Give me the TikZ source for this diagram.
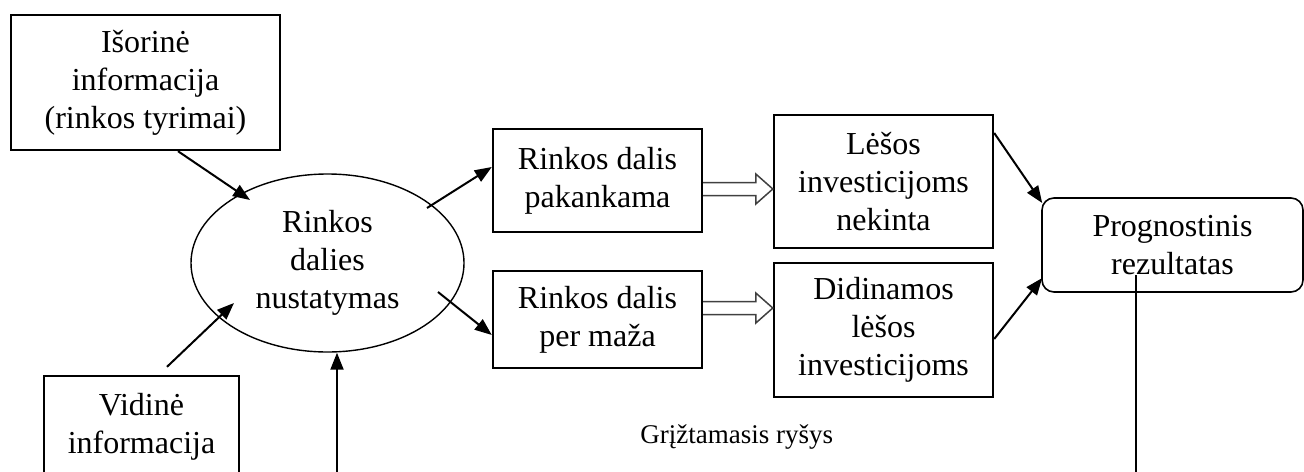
\documentclass[tikz,border=0pt]{standalone}
\usepackage{fontspec}
\setmainfont{Liberation Serif}
\usetikzlibrary{shapes.geometric,calc,arrows.meta}
\newcommand\mainfnt{\fontsize{16}{19}\selectfont}
\newcommand\smallfnt{\fontsize{13.5}{16}\selectfont}
\tikzset{
  boxnode/.style={draw, rectangle, line width=1.2pt, align=center, inner sep=0pt, font=\mainfnt},
  ellnode/.style={draw, ellipse, line width=0.7pt, align=center, inner sep=0pt, font=\mainfnt},
  roundnode/.style={draw, rectangle, rounded corners=6pt, line width=0.8pt, align=center, inner sep=0pt, font=\mainfnt},
  conn/.style={line width=1pt, -{Triangle[length=8.5pt,width=6.5pt]}},
  plainline/.style={line width=1pt},
  hollowarrow/.style={line width=0.75pt, draw=black!75, line join=miter},
}
\begin{document}
\begin{tikzpicture}[x=0.5pt,y=-0.5pt]
\useasboundingbox (0,0) rectangle (1304,471);
\clip (0,0) rectangle (1304,471);

\node[boxnode, minimum width=134.5pt, minimum height=67.5pt] (isor) at (145.5,82.5) {Išorinė\\informacija\\(rinkos tyrimai)};
\node[boxnode, minimum width=97.5pt, minimum height=50.5pt] (vid) at (141.5,426.5) {Vidinė\\informacija};
\node[ellnode, minimum width=136.5pt, minimum height=89pt] (ell) at (327.5,263) {Rinkos\\dalies\\nustatymas};
\node[boxnode, minimum width=104.5pt, minimum height=51.5pt] (pak) at (597.5,180.5) {Rinkos dalis\\pakankama};
\node[boxnode, minimum width=104.5pt, minimum height=48.5pt] (per) at (597.5,319.5) {Rinkos dalis\\per maža};
\node[boxnode, minimum width=109.5pt, minimum height=66.5pt] (les) at (883.5,181.5) {Lėšos\\investicijoms\\nekinta};
\node[boxnode, minimum width=109.5pt, minimum height=67pt] (did) at (883.5,330) {Didinamos\\lėšos\\investicijoms};
\node[roundnode, minimum width=130.5pt, minimum height=47pt] (prog) at (1172.5,245) {Prognostinis\\rezultatas};
\node[font=\smallfnt, anchor=base west, inner sep=0pt] (grz) at (640,443) {Grįžtamasis ryšys};

\coordinate (fb1) at (337,490);
\coordinate (fb2) at (1136,490);

% connectors
\draw[conn] ($(isor.south)+(32.5,0)$) -- ($(ell.center)+(-77.5,-63)$);
\draw[conn] ($(vid.north)+(25.5,-8)$) -- ($(ell.center)+(-93.5,40)$);
\draw[conn] (fb1) -- ($(ell.south)+(9.5,0)$);
\draw[conn] ($(ell.center)+(99.5,-55)$) -- ($(pak.west)+(0,-13.5)$);
\draw[conn] ($(ell.center)+(110.5,29)$) -- ($(per.west)+(0,15.5)$);
\draw[conn] ($(les.east)+(0,-48.5)$) -- ($(prog.west)+(1,-42)$);
\draw[conn] ($(did.east)+(0,9)$) -- ($(prog.west)+(1,33)$);
\draw[plainline] ($(prog.center)+(-36.5,30)$) -- (fb2);

% hollow arrows
\coordinate (h1s) at ($(pak.east)+(0,8.5)$);
\coordinate (h1e) at ($(les.west)+(0,7.5)$);
\draw[hollowarrow] ($(h1s)+(0,-6.5)$) -- ($(h1e)+(-17,-6.5)$) -- ($(h1e)+(-17,-15)$) -- (h1e) -- ($(h1e)+(-17,15)$) -- ($(h1e)+(-17,6.5)$) -- ($(h1s)+(0,6.5)$);
\coordinate (h2s) at ($(per.east)+(0,-11.5)$);
\coordinate (h2e) at ($(did.west)+(0,-22)$);
\draw[hollowarrow] ($(h2s)+(0,-6.5)$) -- ($(h2e)+(-17,-6.5)$) -- ($(h2e)+(-17,-15)$) -- (h2e) -- ($(h2e)+(-17,15)$) -- ($(h2e)+(-17,6.5)$) -- ($(h2s)+(0,6.5)$);
\end{tikzpicture}
\end{document}
